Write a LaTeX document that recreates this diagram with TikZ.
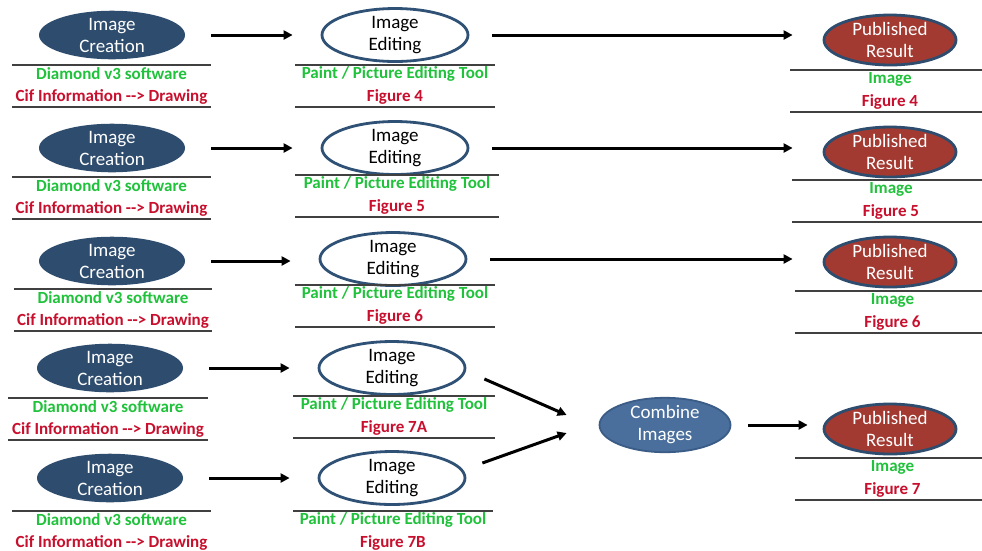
\documentclass[tikz,border=0pt]{standalone}
\usepackage{fontspec}
\setmainfont{Carlito}
\usetikzlibrary{shapes.geometric,arrows.meta}

\definecolor{navy}{HTML}{2E4C6D}
\definecolor{navyline}{HTML}{2F5175}
\definecolor{combfill}{HTML}{4A6F9C}
\definecolor{combline}{HTML}{3A5C86}
\definecolor{pubfill}{HTML}{A23A32}
\definecolor{greentxt}{HTML}{1FC23A}
\definecolor{redtxt}{HTML}{C8102E}

\tikzset{
  oval/.style={ellipse, inner sep=0pt, align=center,
    font=\fontsize{19}{22}\selectfont},
  creation/.style={oval, fill=navy, text=white, minimum width=146pt, minimum height=44pt},
  editing/.style={oval, draw=navyline, line width=2.8pt, fill=white, text=black,
    minimum width=146pt, minimum height=42pt},
  published/.style={oval, draw=navy, line width=2.8pt, fill=pubfill, text=white,
    minimum width=132pt, minimum height=44pt},
  combine/.style={oval, draw=combline, line width=1.8pt, fill=combfill, text=white,
    minimum width=131pt, minimum height=45pt},
  gtxt/.style={inner sep=0pt, text=greentxt, font=\fontsize{17}{20}\selectfont\bfseries},
  rtxt/.style={inner sep=0pt, text=redtxt, font=\fontsize{17}{20}\selectfont\bfseries},
  rulel/.style={draw=black!75, line width=1.2pt},
  flow/.style={line width=3pt, -{Triangle[length=9pt,width=9pt]}},
}

% caption block under a stage: two rules with a green and a red line of text
\newcommand\lblblock[6]{%
  \draw[rulel] (#2,#4) -- (#3,#4);
  \node[gtxt] (#1g) at ({(#2+#3)/2},#4+9) {#5};
  \node[rtxt] (#1r) at ({(#2+#3)/2},#4+32) {#6};
  \draw[rulel] (#2,#4+42) -- (#3,#4+42);}

\newcommand\cifdraw{Cif Information -{}-> Drawing}

\begin{document}
\begin{tikzpicture}[x=1pt,y=-1pt]
\useasboundingbox[fill=white] (0,0) rectangle (982,550);

% ---- creation stages
\node[creation] (c1) at (112,35)  {Image\\Creation};
\node[creation] (c2) at (112,148) {Image\\Creation};
\node[creation] (c3) at (112,261) {Image\\Creation};
\node[creation] (c4) at (110,368) {Image\\Creation};
\node[creation] (c5) at (110,478) {Image\\Creation};

\lblblock{lc1}{12}{211}{65}{Diamond v3 software}{\cifdraw}
\lblblock{lc2}{12}{211}{177}{Diamond v3 software}{\cifdraw}
\lblblock{lc3}{14}{212}{289}{Diamond v3 software}{\cifdraw}
\lblblock{lc4}{8}{208}{398}{Diamond v3 software}{\cifdraw}
\lblblock{lc5}{12}{211}{511}{Diamond v3 software}{\cifdraw}

% ---- editing stages
\node[editing] (e1) at (395,35)  {Image\\Editing};
\node[editing] (e2) at (395,148) {Image\\Editing};
\node[editing] (e3) at (393,259) {Image\\Editing};
\node[editing] (e4) at (392,368) {Image\\Editing};
\node[editing] (e5) at (392,478) {Image\\Editing};

\lblblock{le1}{295}{495}{65}{Paint / Picture Editing Tool}{Figure 4}
\lblblock{le2}{295}{499}{175}{Paint / Picture Editing Tool}{Figure 5}
\lblblock{le3}{295}{495}{285}{Paint / Picture Editing Tool}{Figure 6}
\lblblock{le4}{293}{495}{396}{Paint / Picture Editing Tool}{Figure 7A}
\lblblock{le5}{293}{493}{511}{Paint / Picture Editing Tool}{Figure 7B}

% ---- combining step
\node[combine] (cb) at (665,425) {Combine\\Images};

% ---- published results
\node[published] (p1) at (890,40)  {Published\\Result};
\node[published] (p2) at (890,152) {Published\\Result};
\node[published] (p3) at (890,262) {Published\\Result};
\node[published] (p4) at (890,429) {Published\\Result};

\lblblock{lp1}{790}{990}{70}{Image}{Figure 4}
\lblblock{lp2}{792}{990}{180}{Image}{Figure 5}
\lblblock{lp3}{795}{990}{291}{Image}{Figure 6}
\lblblock{lp4}{795}{990}{458}{Image}{Figure 7}

% ---- flow arrows
\foreach \i in {1,...,5}
  \draw[flow, shorten <=26pt, shorten >=28pt] (c\i.east) -- (c\i.east -| e\i.west);
\foreach \i in {1,2,3}
  \draw[flow, shorten <=23pt, shorten >=30pt] (e\i.east) -- (e\i.east -| p\i.west);
\draw[flow] ([xshift=18pt,yshift=-11pt]e4.east) -- ([xshift=-32pt,yshift=10pt]cb.west);
\draw[flow] ([xshift=16pt,yshift=15pt]e5.east) -- ([xshift=-32pt,yshift=-8pt]cb.west);
\draw[flow, shorten <=17pt, shorten >=15pt] (cb.east) -- (cb.east -| p4.west);
\end{tikzpicture}
\end{document}
